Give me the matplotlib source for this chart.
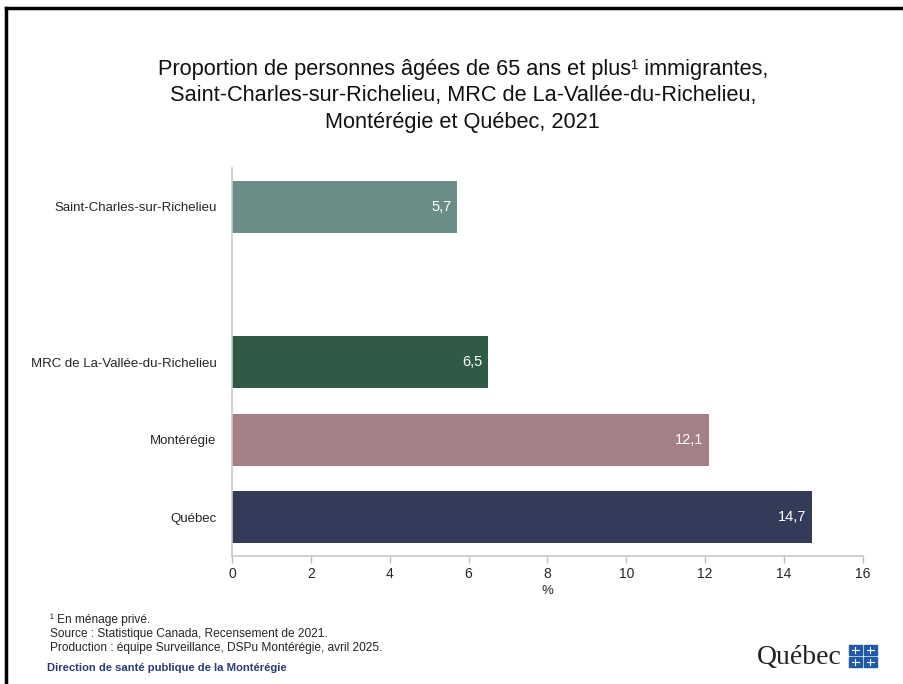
import matplotlib.pyplot as plt
from matplotlib.lines import Line2D
from matplotlib.patches import Rectangle

categories = [
    "Saint-Charles-sur-Richelieu",
    "MRC de La-Vallée-du-Richelieu",
    "Montérégie",
    "Québec",
]
values = [5.7, 6.5, 12.1, 14.7]
slots = [0, 2, 3, 4]  # empty slot between the municipality and the MRC
colors = ["#6A8E87", "#2F5B46", "#A47F85", "#333B58"]
xticks = [0, 2, 4, 6, 8, 10, 12, 14, 16]

title = ("Proportion de personnes âgées de 65 ans et plus¹ immigrantes,\n"
         "Saint-Charles-sur-Richelieu, MRC de La-Vallée-du-Richelieu,\n"
         "Montérégie et Québec, 2021")
notes = [
    "¹ En ménage privé.",
    "Source : Statistique Canada, Recensement de 2021.",
    "Production : équipe Surveillance, DSPu Montérégie, avril 2025.",
]

plt.rcParams["font.family"] = ["Liberation Sans", "DejaVu Sans"]

fig = plt.figure(figsize=(9.04, 6.84), dpi=100)
ax = fig.add_axes([0.2566, 0.1871, 0.698, 0.5673])

ax.barh(slots, values, height=0.67, color=colors)
for s, v in zip(slots, values):
    ax.text(v - 0.14, s, f"{v:.1f}".replace(".", ","), ha="right", va="center",
            color="white", fontsize=10.5)

ax.set_ylim(4.5, -0.5)
ax.set_xlim(0, 16)
ax.set_yticks(slots)
ax.set_yticklabels(categories, fontsize=9.5, color="#262626")
ax.set_xticks(xticks)
ax.set_xticklabels([str(t) for t in xticks], fontsize=10, color="#262626")
ax.tick_params(axis="y", length=0, pad=11)
ax.tick_params(axis="x", length=5, color="#BFBFBF", width=1, pad=3)
ax.set_xlabel("%", fontsize=9.5, color="#262626", labelpad=3)
for side in ("top", "right"):
    ax.spines[side].set_visible(False)
for side in ("left", "bottom"):
    ax.spines[side].set_color("#C8C8C8")
    ax.spines[side].set_linewidth(1.2)

fig.text(0.512, 1 - 59 / 684, title, ha="center", va="top", fontsize=15.7,
         color="#111111", linespacing=1.33)

for i, line in enumerate(notes):
    fig.text(0.055, 1 - (620 + 14 * i) / 684, line, ha="left", va="center",
             fontsize=8.6, color="#262626")
fig.text(0.052, 1 - 668 / 684, "Direction de santé publique de la Montérégie",
         ha="left", va="center", fontsize=8.1, fontweight="bold", color="#2B3A7A")

# Québec signature
fig.text(757 / 904, 1 - 657 / 684, "Québec", ha="left", va="center", fontsize=20,
         family="Liberation Serif", color="#222222")
for dx, dy in [(0, 0), (1, 0), (0, 1), (1, 1)]:
    x0 = (849 + dx * 15) / 904
    y0 = 1 - (645 + dy * 12) / 684
    fig.add_artist(Rectangle((x0, y0 - 10 / 684), 13 / 904, 10 / 684,
                             transform=fig.transFigure, color="#1F5AA8"))
    fig.add_artist(Line2D([x0 + 6.5 / 904] * 2, [y0 - 8 / 684, y0 - 2 / 684],
                          color="white", lw=0.8, transform=fig.transFigure))
    fig.add_artist(Line2D([x0 + 3 / 904, x0 + 10 / 904], [y0 - 5 / 684] * 2,
                          color="white", lw=0.8, transform=fig.transFigure))

# frame lines
fig.add_artist(Line2D([6.5 / 904, 6.5 / 904], [0, 1 - 8 / 684], color="black",
                      lw=2.5, transform=fig.transFigure))
fig.add_artist(Line2D([6.5 / 904, 1], [1 - 8 / 684, 1 - 8 / 684], color="black",
                      lw=2.5, transform=fig.transFigure))

fig.savefig("out.png", dpi=100, facecolor="white")
